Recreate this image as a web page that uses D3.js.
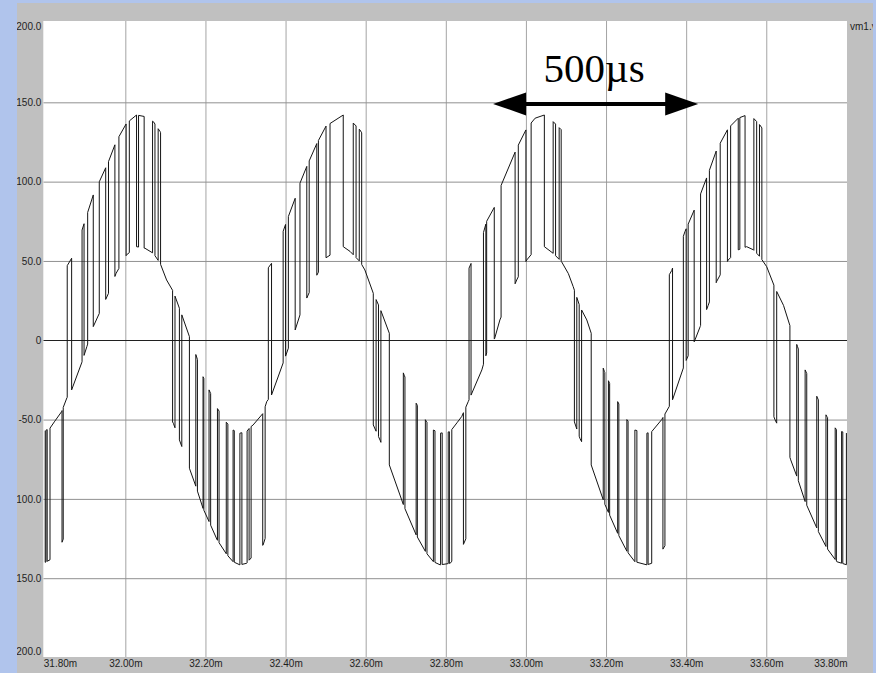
<!DOCTYPE html>
<html>
<head>
<meta charset="utf-8">
<script src="https://cdn.jsdelivr.net/npm/d3@7"></script>
<style>
  html, body { margin: 0; padding: 0; background: #b0c4ec; }
  svg { display: block; }
  .axis text { font-family: "Liberation Sans", Arial, sans-serif; font-size: 10px; fill: #1e1e1e; }
</style>
</head>
<body>
<svg id="chart" width="876" height="673"></svg>
<script>
// ---- data ----
var xTicks = [31.8, 32.0, 32.2, 32.4, 32.6, 32.8, 33.0, 33.2, 33.4, 33.6, 33.8];
var xTickLabels = ["31.80m", "32.00m", "32.20m", "32.40m", "32.60m", "32.80m", "33.00m", "33.20m", "33.40m", "33.60m", "33.80m"];
var yTicks = [200, 150, 100, 50, 0, -50, -100, -150, -200];
var yTickLabels = ["200.0", "150.0", "100.0", "50.0", "0", "-50.0", "-100.0", "-150.0", "-200.0"];
var traceName = "vm1.v";

// inner (un-switched) curve of vm1, time in ms, volts
var innerT = [31.800, 31.812, 31.824, 31.841, 31.854, 31.866, 31.891, 31.904, 31.920, 31.937, 31.958, 31.977,
  32.003, 32.028, 32.049, 32.070, 32.087, 32.103, 32.120, 32.141, 32.160, 32.176, 32.194, 32.209, 32.229, 32.253,
  32.269, 32.286, 32.303, 32.311, 32.319, 32.344, 32.353, 32.365, 32.394, 32.407, 32.424, 32.436, 32.453, 32.478,
  32.501, 32.544, 32.561, 32.586, 32.598, 32.619, 32.636, 32.659, 32.696, 32.726, 32.751, 32.769, 32.786, 32.811,
  32.828, 32.840, 32.856, 32.890, 32.902, 32.922, 32.935, 32.977, 33.002, 33.023, 33.046, 33.068, 33.089, 33.106,
  33.118, 33.135, 33.152, 33.163, 33.196, 33.229, 33.252, 33.272, 33.302, 33.314, 33.339, 33.347, 33.364, 33.397,
  33.422, 33.435, 33.455, 33.476, 33.505, 33.530, 33.551, 33.568, 33.584, 33.601, 33.622, 33.643, 33.661, 33.678,
  33.697, 33.730, 33.751, 33.776, 33.800];
var innerV = [-57, -55.4, -51, -45, -36.4, -31.3, -14.3, -4, 8.6, 18, 29.6, 42.2,
  53.8, 59, 58, 54.8, 48.5, 38, 30.6, 16, 2.3, -9, -23, -31.3, -42.7, -52,
  -56.6, -58.6, -57.6, -55, -53.4, -46, -38.7, -34.5, -14.3, -5, 6.5, 16, 26.6, 41,
  52, 59, 56, 49.5, 44.3, 29.6, 20, 4.4, -22, -39.7, -51, -56.6, -58.6, -57.6,
  -52, -48, -38.7, -18.7, -8, 1.2, 12.8, 38, 50.6, 57, 59, 54.8, 49.5, 42,
  33.8, 21, 12.8, 4.4, -19.8, -38.7, -50, -56.6, -58.6, -57.6, -50, -46.5, -39, -14.5,
  0.2, 8.6, 22, 37, 50.6, 57, 59, 57, 52.7, 46.4, 32.8, 22, 7.6, -4,
  -18.7, -37.6, -48, -56.6, -58.5];

// switching step above / below the inner curve (V)
var pulseStep = 83;

// intervals (ms) where the output sits one step above the inner curve
var posPulses = [
  [31.855, 31.866], [31.892, 31.897], [31.906, 31.920], [31.935, 31.951], [31.958, 31.974], [31.984, 32.002],
  [32.010, 32.028], [32.033, 32.047], [32.068, 32.074], [32.082, 32.088],
  [32.357, 32.365], [32.394, 32.400], [32.407, 32.424], [32.436, 32.453], [32.459, 32.478], [32.482, 32.501],
  [32.511, 32.544], [32.569, 32.576], [32.584, 32.590],
  [32.858, 32.863], [32.894, 32.900], [32.902, 32.921], [32.938, 32.973], [32.981, 33.000], [33.013, 33.046],
  [33.068, 33.074], [33.083, 33.088],
  [33.358, 33.366], [33.393, 33.400], [33.405, 33.420], [33.436, 33.451], [33.458, 33.475], [33.485, 33.503],
  [33.511, 33.530], [33.534, 33.547], [33.569, 33.576], [33.583, 33.589]
];
// intervals (ms) where the output sits one step below the inner curve
var negPulses = [
  [31.800, 31.802], [31.805, 31.812], [31.842, 31.845],
  [32.118, 32.124], [32.135, 32.141], [32.160, 32.176], [32.180, 32.194], [32.196, 32.209], [32.213, 32.230],
  [32.234, 32.252], [32.256, 32.269], [32.272, 32.286], [32.291, 32.304], [32.309, 32.314], [32.343, 32.349],
  [32.619, 32.626], [32.632, 32.638], [32.659, 32.694], [32.698, 32.726], [32.729, 32.749], [32.753, 32.769],
  [32.773, 32.787], [32.791, 32.806], [32.809, 32.815], [32.844, 32.850],
  [33.121, 33.127], [33.133, 33.139], [33.163, 33.193], [33.197, 33.206], [33.209, 33.229], [33.232, 33.252],
  [33.255, 33.272], [33.277, 33.302], [33.305, 33.314], [33.342, 33.347],
  [33.619, 33.626], [33.659, 33.676], [33.680, 33.697], [33.701, 33.726], [33.730, 33.749], [33.753, 33.772],
  [33.775, 33.788], [33.791, 33.800]
];

// period marker drawn over the plot
var markerFrom = 32.918, markerTo = 33.430, markerLevel = 149;
var markerText = "500\u00b5s", markerTextAt = [33.044, 163];

// ---- layout ----
var W = 876, H = 673;
var panel = { x: 17, y: 3, w: 856, h: 670 };
var plot = { left: 43.3, top: 21, right: 847, bottom: 657 };

var svg = d3.select("#chart");
svg.append("rect").attr("width", W).attr("height", H).attr("fill", "#b0c4ec");

var defs = svg.append("defs");
defs.append("clipPath").attr("id", "panel-clip").append("rect")
    .attr("x", panel.x).attr("y", panel.y).attr("width", panel.w).attr("height", panel.h);
defs.append("clipPath").attr("id", "plot-clip").append("rect")
    .attr("x", plot.left).attr("y", plot.top)
    .attr("width", plot.right - plot.left).attr("height", plot.bottom - plot.top);

var g = svg.append("g").attr("clip-path", "url(#panel-clip)");
g.append("rect").attr("x", panel.x).attr("y", panel.y).attr("width", panel.w).attr("height", panel.h)
    .attr("fill", "#c0c0c0");
g.append("rect").attr("x", plot.left).attr("y", plot.top)
    .attr("width", plot.right - plot.left).attr("height", plot.bottom - plot.top)
    .attr("fill", "#ffffff");

var x = d3.scaleLinear().domain([31.8, 33.8]).range([45.2, 846.4]);
var y = d3.scaleLinear().domain([-200, 200]).range([657.5, 23]);

// grid
var inner = g.append("g").attr("clip-path", "url(#plot-clip)");
inner.append("g")
    .attr("transform", "translate(0," + plot.bottom + ")")
    .call(d3.axisBottom(x).tickValues(xTicks.slice(1, -1)).tickSize(-(plot.bottom - plot.top)).tickFormat(""))
    .call(function (a) { a.select(".domain").remove(); })
    .selectAll("line").attr("stroke", "#a4a4a4");
inner.append("g")
    .attr("transform", "translate(" + plot.left + ",0)")
    .call(d3.axisLeft(y).tickValues(yTicks.filter(function (v) { return Math.abs(v) < 200 && v !== 0; }))
        .tickSize(-(plot.right - plot.left)).tickFormat(""))
    .call(function (a) { a.select(".domain").remove(); })
    .selectAll("line").attr("stroke", "#909090");
inner.append("line")
    .attr("x1", plot.left).attr("x2", plot.right)
    .attr("y1", Math.round(y(0)) + 0.5).attr("y2", Math.round(y(0)) + 0.5)
    .attr("stroke", "#202020");

// waveform: inner curve, shifted by one step while a pulse is on
var S = d3.scaleLinear().domain(innerT).range(innerV);
var pulses = posPulses.map(function (p) { return { on: p[0], off: p[1], sign: 1 }; })
    .concat(negPulses.map(function (p) { return { on: p[0], off: p[1], sign: -1 }; }))
    .sort(function (a, b) { return a.on - b.on; });

var pts = [];
function addSpan(a, b, lvl) {
    innerT.forEach(function (t, i) {
        if (t > a && t < b) pts.push([t, innerV[i] + lvl * pulseStep]);
    });
}
var cur = x.domain()[0];
pulses.forEach(function (p) {
    pts.push([cur, S(cur)]);
    addSpan(cur, p.on, 0);
    pts.push([p.on, S(p.on)]);
    pts.push([p.on, S(p.on) + p.sign * pulseStep]);
    addSpan(p.on, p.off, p.sign);
    pts.push([p.off, S(p.off) + p.sign * pulseStep]);
    cur = p.off;
});
pts.push([cur, S(cur)]);
addSpan(cur, x.domain()[1], 0);
pts.push([x.domain()[1], S(x.domain()[1])]);

inner.append("path")
    .datum(pts)
    .attr("fill", "none")
    .attr("stroke", "#141414")
    .attr("stroke-width", 1)
    .attr("d", d3.line().x(function (d) { return x(d[0]); }).y(function (d) { return y(d[1]); }));

// axes labels
var yAxis = g.append("g")
    .attr("class", "axis")
    .attr("transform", "translate(" + plot.left + ",0)")
    .call(d3.axisLeft(y).tickValues(yTicks).tickSize(0).tickPadding(2)
        .tickFormat(function (d, i) { return yTickLabels[i]; }));
yAxis.select(".domain").remove();
yAxis.selectAll(".tick text")
    .attr("dy", function (d) { return d === 200 ? "0.69em" : d === -200 ? "-0.33em" : "0.32em"; });

var xAxis = g.append("g")
    .attr("class", "axis")
    .attr("transform", "translate(0," + plot.bottom + ")")
    .call(d3.axisBottom(x).tickValues(xTicks).tickSize(0).tickPadding(3)
        .tickFormat(function (d, i) { return xTickLabels[i]; }));
xAxis.select(".domain").remove();
xAxis.selectAll(".tick text")
    .attr("text-anchor", function (d, i) { return i === 0 ? "start" : i === xTicks.length - 1 ? "end" : "middle"; })
    .attr("x", function (d, i) { return i === 0 ? plot.left - x(d) : i === xTicks.length - 1 ? plot.right - x(d) : 0; });

g.append("text")
    .attr("x", plot.right + 3).attr("y", 30)
    .style("font-family", "'Liberation Sans', Arial, sans-serif").style("font-size", "10px")
    .attr("fill", "#1e1e1e")
    .text(traceName);

// 500us marker
var ax0 = x(markerFrom), ax1 = x(markerTo), ay = y(markerLevel);
var headL = 33, headH = 11.5;
g.append("line")
    .attr("x1", ax0 + headL - 1).attr("x2", ax1 - headL + 1)
    .attr("y1", ay).attr("y2", ay)
    .attr("stroke", "#000").attr("stroke-width", 4);
g.append("path")
    .attr("d", "M" + ax0 + "," + ay + "L" + (ax0 + headL) + "," + (ay - headH) + "L" + (ax0 + headL) + "," + (ay + headH) + "Z")
    .attr("fill", "#000");
g.append("path")
    .attr("d", "M" + ax1 + "," + ay + "L" + (ax1 - headL) + "," + (ay - headH) + "L" + (ax1 - headL) + "," + (ay + headH) + "Z")
    .attr("fill", "#000");
g.append("text")
    .attr("x", x(markerTextAt[0])).attr("y", y(markerTextAt[1]))
    .style("font-family", "'Liberation Serif', 'Times New Roman', serif").style("font-size", "41px")
    .attr("fill", "#000")
    .text(markerText);
</script>
</body>
</html>
